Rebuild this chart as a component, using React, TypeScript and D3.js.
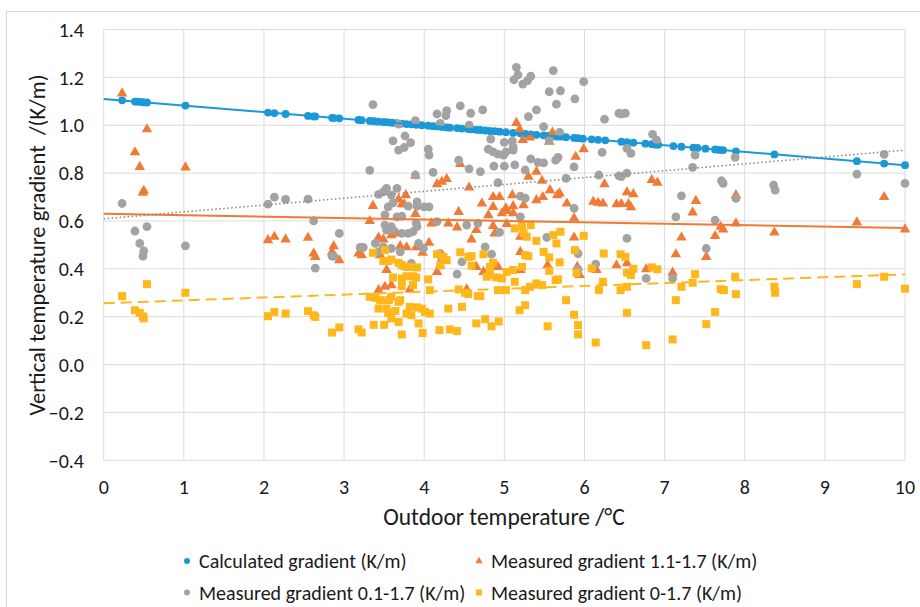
import React from "react";
import * as d3 from "d3";

const xTicks = [0, 1, 2, 3, 4, 5, 6, 7, 8, 9, 10];
const yTicks = [-0.4, -0.2, 0, 0.2, 0.4, 0.6, 0.8, 1.0, 1.2, 1.4];

// calculated gradient: outdoor temperature and value
const calcTemp = [
  0.23, 0.39, 0.41, 0.45, 0.49, 0.54, 1.02, 2.05, 2.13, 2.27, 2.55, 2.62, 2.64, 2.85, 2.87, 2.94,
  3.18, 3.22, 3.32, 3.36, 3.39, 3.43, 3.49, 3.51, 3.55, 3.59, 3.61, 3.66, 3.72, 3.78, 3.84, 3.9,
  3.97, 4.05, 4.11, 4.16, 4.22, 4.28, 4.32, 4.41, 4.47, 4.55, 4.59, 4.65, 4.7, 4.76, 4.82, 4.88,
  4.94, 5.02, 5.11, 5.2, 5.26, 5.33, 5.4, 5.49, 5.56, 5.65, 5.7, 5.77, 5.87, 5.92, 5.98, 6.09,
  6.17, 6.26, 6.46, 6.53, 6.61, 6.76, 6.84, 6.88, 6.92, 7.11, 7.21, 7.36, 7.41, 7.51, 7.63, 7.68,
  7.73, 7.89, 8.37, 9.4, 9.74, 10.0,
];
const calcGrad = [
  1.104, 1.099, 1.099, 1.098, 1.096, 1.095, 1.082, 1.053, 1.051, 1.047, 1.039, 1.037, 1.037, 1.031, 1.03, 1.029,
  1.022, 1.021, 1.018, 1.017, 1.016, 1.015, 1.013, 1.013, 1.012, 1.011, 1.01, 1.009, 1.007, 1.005, 1.004, 1.002,
  1.0, 0.998, 0.996, 0.995, 0.993, 0.991, 0.99, 0.988, 0.986, 0.984, 0.983, 0.981, 0.98, 0.978, 0.976, 0.975,
  0.973, 0.971, 0.968, 0.966, 0.964, 0.962, 0.96, 0.958, 0.956, 0.953, 0.952, 0.95, 0.947, 0.946, 0.944, 0.941,
  0.939, 0.937, 0.931, 0.929, 0.927, 0.923, 0.921, 0.919, 0.918, 0.913, 0.91, 0.906, 0.905, 0.902, 0.899, 0.897,
  0.896, 0.891, 0.878, 0.85, 0.84, 0.833,
];

// measured gradient 1.1-1.7 [temp, value]
const m11: [number, number][] = [
  [0.23, 1.133], [0.39, 0.887], [0.45, 0.826], [0.54, 0.983], [0.49, 0.718], [0.5, 0.726], [1.02, 0.824],
  [2.05, 0.52], [2.13, 0.534], [2.27, 0.523], [2.55, 0.53], [2.62, 0.464], [2.64, 0.45], [2.87, 0.495],
  [2.85, 0.471], [2.94, 0.436], [3.18, 0.464], [3.22, 0.457],
  [4.45, 0.838], [4.16, 0.754], [4.22, 0.764], [4.28, 0.775], [4.56, 0.74], [3.36, 0.663], [3.68, 0.69],
  [3.77, 0.708], [3.72, 0.67], [3.89, 0.789], [3.75, 0.67], [3.32, 0.6], [3.89, 0.629], [4.43, 0.638],
  [4.09, 0.59], [4.3, 0.59], [4.41, 0.573], [4.65, 0.562], [3.59, 0.541], [3.66, 0.548], [3.43, 0.531],
  [3.49, 0.523], [3.45, 0.457], [3.7, 0.495], [3.78, 0.49], [3.9, 0.49], [3.98, 0.467], [4.06, 0.509],
  [4.16, 0.387], [4.2, 0.415], [4.65, 0.408], [3.53, 0.395], [3.43, 0.311], [3.51, 0.325], [3.59, 0.332],
  [3.82, 0.314], [4.53, 0.314], [3.55, 0.27],
  [5.15, 1.01], [5.19, 0.983], [5.23, 0.938], [5.32, 0.949], [5.6, 0.969], [5.56, 0.931], [5.99, 0.9],
  [5.89, 0.868], [5.4, 0.806], [5.3, 0.785], [5.47, 0.768], [6.25, 0.754], [4.72, 0.673], [4.86, 0.7],
  [4.94, 0.7], [4.86, 0.659], [5.1, 0.708], [5.11, 0.662], [5.24, 0.666], [5.4, 0.687], [5.48, 0.7],
  [5.57, 0.729], [5.66, 0.708], [5.69, 0.715], [5.78, 0.673], [6.11, 0.68], [6.17, 0.676], [6.23, 0.673],
  [6.4, 0.67], [5.02, 0.653],
  [4.8, 0.624], [4.97, 0.632], [5.03, 0.642], [5.11, 0.632], [4.86, 0.579], [5.03, 0.587], [4.88, 0.548],
  [5.2, 0.534], [5.87, 0.611], [5.87, 0.531], [4.59, 0.523], [4.74, 0.387], [4.92, 0.408], [5.2, 0.471],
  [5.2, 0.395], [5.54, 0.415], [5.91, 0.408], [5.94, 0.374], [6.15, 0.395], [6.4, 0.415],
  [6.84, 0.771], [6.91, 0.76], [6.53, 0.72], [6.61, 0.712], [6.46, 0.671], [6.55, 0.671], [6.58, 0.657],
  [7.39, 0.684], [7.35, 0.636], [7.89, 0.708], [7.7, 0.576], [7.73, 0.565], [7.89, 0.59], [7.63, 0.537],
  [7.21, 0.531], [7.14, 0.461], [7.52, 0.45], [6.53, 0.423], [6.77, 0.398], [7.1, 0.384],
  [8.37, 0.552], [9.4, 0.594], [9.74, 0.7], [10.0, 0.565],
];

// measured gradient 0.1-1.7 [temp, value]
const m01: [number, number][] = [
  [0.23, 0.673], [0.39, 0.558], [0.45, 0.506], [0.5, 0.475], [0.49, 0.453], [0.54, 0.576], [1.02, 0.496],
  [2.05, 0.67], [2.13, 0.7], [2.27, 0.69], [2.55, 0.691], [2.62, 0.6], [2.64, 0.403], [2.85, 0.453],
  [2.87, 0.453], [2.94, 0.548], [3.2, 0.49], [3.24, 0.49],
  [3.36, 1.086], [3.68, 1.005], [3.61, 0.935], [3.76, 0.955], [3.83, 0.927], [3.68, 0.896], [3.75, 0.907],
  [3.89, 1.019], [4.05, 0.9], [4.06, 0.875], [3.32, 0.811], [3.89, 0.792], [4.11, 0.803], [4.16, 1.047],
  [4.28, 1.061], [4.27, 1.04], [4.2, 1.008], [4.45, 1.081], [4.58, 1.05], [4.56, 1.0], [4.43, 0.854],
  [4.56, 0.818], [3.43, 0.711], [3.49, 0.722], [3.53, 0.736], [3.59, 0.708], [3.66, 0.736], [3.55, 0.659],
  [3.61, 0.676], [3.8, 0.662], [3.91, 0.68], [3.91, 0.662], [4.0, 0.659], [4.06, 0.659],
  [3.51, 0.625], [3.66, 0.617], [3.72, 0.62], [3.91, 0.576], [3.9, 0.59], [3.51, 0.583], [3.55, 0.569],
  [3.59, 0.576], [3.61, 0.562], [3.53, 0.562], [3.72, 0.548], [3.8, 0.548], [3.86, 0.555], [3.39, 0.506],
  [3.49, 0.492], [3.59, 0.485], [3.7, 0.471], [3.93, 0.506], [3.99, 0.485], [4.2, 0.464], [4.22, 0.436],
  [4.47, 0.429], [4.41, 0.378], [3.43, 0.471], [3.84, 0.423], [3.72, 0.415], [4.16, 0.597], [4.67, 0.59],
  [4.53, 0.583],
  [5.15, 1.242], [5.17, 1.21], [5.12, 1.19], [5.23, 1.172], [5.29, 1.186], [5.33, 1.205], [5.61, 1.228],
  [5.99, 1.182], [5.56, 1.14], [5.7, 1.144], [5.65, 1.088], [5.88, 1.11], [5.4, 1.064], [5.3, 1.036],
  [4.73, 1.064], [5.49, 0.994], [5.69, 0.97], [5.56, 0.938], [6.25, 1.025], [6.22, 0.887], [6.43, 1.05],
  [4.83, 0.942], [5.0, 0.928], [5.1, 0.934], [5.11, 0.91], [5.11, 0.896], [4.8, 0.9], [4.86, 0.889],
  [4.92, 0.879], [4.99, 0.875], [5.02, 0.889], [4.7, 0.806], [4.87, 0.829], [5.0, 0.829], [5.13, 0.834],
  [5.26, 0.813], [5.33, 0.859], [5.42, 0.845], [5.49, 0.843], [5.64, 0.854], [5.67, 0.866], [5.87, 0.826],
  [5.77, 0.778], [6.18, 0.792], [6.43, 0.788], [4.92, 0.76], [5.2, 0.704], [5.26, 0.695], [5.87, 0.653],
  [4.94, 0.552], [5.2, 0.617], [5.53, 0.531], [4.76, 0.492], [4.84, 0.461], [5.92, 0.464], [6.14, 0.42],
  [5.92, 0.398],
  [6.46, 1.047], [6.51, 1.05], [6.85, 0.962], [6.9, 0.938], [6.53, 0.903], [6.58, 0.882], [7.38, 0.875],
  [7.88, 0.866], [7.35, 0.824], [6.46, 0.785], [6.53, 0.8], [7.71, 0.768], [7.73, 0.757], [7.21, 0.705],
  [7.89, 0.694], [7.14, 0.617], [7.63, 0.603], [6.53, 0.527], [7.52, 0.485], [6.77, 0.36], [7.1, 0.36],
  [8.36, 0.75], [8.38, 0.729], [9.4, 0.796], [9.74, 0.878], [10.0, 0.757],
];

// measured gradient 0-1.7 [temp, value]
const m00: [number, number][] = [
  [0.23, 0.286], [0.39, 0.227], [0.45, 0.216], [0.49, 0.202], [0.5, 0.193], [0.54, 0.336], [1.02, 0.3],
  [2.05, 0.202], [2.13, 0.22], [2.27, 0.213], [2.55, 0.223], [2.62, 0.206], [2.64, 0.199], [2.85, 0.134],
  [2.94, 0.155], [3.18, 0.147], [3.22, 0.134], [3.37, 0.166], [3.5, 0.166], [3.72, 0.126], [3.98, 0.132],
  [4.19, 0.144], [4.32, 0.147], [4.41, 0.14], [4.65, 0.172], [4.76, 0.19], [4.84, 0.16], [4.93, 0.18],
  [5.54, 0.16], [5.87, 0.208], [5.92, 0.165], [5.92, 0.126], [6.14, 0.092],
  [3.36, 0.467], [3.51, 0.478], [3.49, 0.433], [3.55, 0.433], [3.59, 0.439], [3.68, 0.425], [3.72, 0.415],
  [3.78, 0.408], [3.84, 0.408], [3.91, 0.406], [3.61, 0.364], [3.72, 0.36], [3.78, 0.369], [3.86, 0.369],
  [3.9, 0.364], [3.72, 0.328], [3.86, 0.332], [4.05, 0.356], [4.16, 0.461], [4.24, 0.45], [4.28, 0.436],
  [4.45, 0.469], [4.55, 0.45], [4.2, 0.415], [4.07, 0.311], [4.43, 0.314], [4.51, 0.3], [4.55, 0.294],
  [4.67, 0.286], [3.32, 0.283], [3.39, 0.279], [3.45, 0.269], [3.55, 0.269], [3.59, 0.283], [3.43, 0.234],
  [3.53, 0.234], [3.55, 0.216], [3.64, 0.224], [3.68, 0.262], [3.7, 0.269], [3.82, 0.241], [3.91, 0.239],
  [3.97, 0.234], [4.01, 0.22], [4.07, 0.213], [3.78, 0.213], [3.84, 0.206], [3.59, 0.193], [3.68, 0.178],
  [4.3, 0.234], [4.47, 0.241], [3.93, 0.172],
  [5.13, 0.569], [5.22, 0.579], [5.33, 0.583], [5.24, 0.548], [5.28, 0.534], [5.4, 0.517], [5.61, 0.541],
  [5.7, 0.555], [5.65, 0.506], [5.99, 0.538], [5.49, 0.471], [5.56, 0.448], [5.26, 0.457], [5.3, 0.453],
  [4.74, 0.461], [4.59, 0.453], [5.88, 0.478], [6.24, 0.464], [5.69, 0.427], [4.86, 0.425], [4.82, 0.408],
  [4.59, 0.413], [5.22, 0.408], [5.11, 0.395], [5.03, 0.387], [4.97, 0.36], [4.9, 0.364], [4.82, 0.374],
  [4.78, 0.367], [5.56, 0.392], [5.9, 0.383], [6.09, 0.402], [5.13, 0.346], [5.26, 0.311], [5.32, 0.325],
  [5.4, 0.339], [5.47, 0.332], [5.64, 0.353], [5.67, 0.356], [4.92, 0.311], [5.02, 0.311], [4.7, 0.286],
  [5.77, 0.269], [6.23, 0.346], [6.18, 0.311], [5.19, 0.227], [5.26, 0.248],
  [6.45, 0.461], [6.51, 0.45], [6.53, 0.384], [6.58, 0.374], [6.61, 0.4], [6.84, 0.406], [6.91, 0.398],
  [6.45, 0.311], [6.53, 0.325], [7.21, 0.325], [7.35, 0.342], [7.38, 0.378], [7.88, 0.367], [7.7, 0.315],
  [7.74, 0.311], [7.89, 0.294], [7.14, 0.269], [6.53, 0.216], [7.63, 0.22], [7.52, 0.169], [6.77, 0.081],
  [7.1, 0.105],
  [8.37, 0.325], [8.38, 0.3], [9.4, 0.336], [9.74, 0.367], [10.0, 0.317],
];

// linear trend lines: value at 0 °C and at 10 °C
const trendCalc = [1.11, 0.833];
const trendM11 = [0.63, 0.571];
const trendM01 = [0.609, 0.896];
const trendM00 = [0.256, 0.377];

const legendItems = [
  { label: "Calculated gradient (K/m)", kind: "calc" },
  { label: "Measured gradient 1.1-1.7 (K/m)", kind: "m11" },
  { label: "Measured gradient 0.1-1.7 (K/m)", kind: "m01" },
  { label: "Measured gradient 0-1.7 (K/m)", kind: "m00" },
];

const BLUE = "#1c98d6";
const ORANGE = "#ef7b36";
const GRAY = "#a3a3a3";
const YELLOW = "#ffb71c";
const FONT = "Carlito, Lato, 'Open Sans', sans-serif";
const INK = "#1a1a1a";

export default function App() {
  const width = 920;
  const height = 607;
  const x = d3.scaleLinear().domain([0, 10]).range([103.7, 905]);
  const y = d3.scaleLinear().domain([-0.4, 1.4]).range([460.3, 29.5]);

  const tri = d3.symbol().type(d3.symbolTriangle).size(48)();
  const sq = d3.symbol().type(d3.symbolSquare).size(64)();
  const triSmall = d3.symbol().type(d3.symbolTriangle).size(24)();
  const sqSmall = d3.symbol().type(d3.symbolSquare).size(36)();

  const trend = (c: number[]) =>
    d3.line<[number, number]>().x(d => x(d[0])).y(d => y(d[1]))([[0, c[0]], [10, c[1]]]) as string;

  const marker = (kind: string, small: boolean) => {
    if (kind === "calc") return <circle r={small ? 3 : 3.9} fill={BLUE} />;
    if (kind === "m01") return <circle r={small ? 3 : 4.4} fill={GRAY} />;
    if (kind === "m11") return <path d={small ? triSmall : tri} fill={ORANGE} />;
    return <path d={small ? sqSmall : sq} fill={YELLOW} />;
  };

  return (
    <svg width={width} height={height} style={{ position: "absolute", left: 0, top: 0, background: "#fff" }}
      fontFamily={FONT}>
      <rect x={6.5} y={11.5} width={1000} height={1000} fill="#fff" stroke="#d9d9d9" />

      {/* grid */}
      {xTicks.map(t => (
        <line key={"gx" + t} x1={x(t)} x2={x(t)} y1={y(1.4)} y2={y(-0.4)} stroke="#dcdcdc" strokeWidth={1} />
      ))}
      {yTicks.map(t => (
        <line key={"gy" + t} x1={x(0)} x2={x(10)} y1={y(t)} y2={y(t)} stroke="#dcdcdc" strokeWidth={1} />
      ))}

      {/* tick labels */}
      {yTicks.map(t => (
        <text key={"ty" + t} x={84} y={y(t)} dy="0.36em" textAnchor="end" fontSize={20} fill={INK}>
          {d3.format(".1f")(t)}
        </text>
      ))}
      {xTicks.map(t => (
        <text key={"tx" + t} x={x(t)} y={486.5} dy="0.36em" textAnchor="middle" fontSize={20} fill={INK}>
          {t}
        </text>
      ))}

      {/* axis titles */}
      <text x={504} y={517} dy="0.36em" textAnchor="middle" fontSize={23.5} fill={INK}>
        Outdoor temperature /°C
      </text>
      <text transform="translate(37,245) rotate(-90)" textAnchor="middle" dy="0.36em" fontSize={22.5} fill={INK}
        style={{ whiteSpace: "pre" }}>
        {"Vertical temperature gradient  /(K/m)"}
      </text>

      {/* series */}
      <g>
        {calcTemp.map((t, i) => (
          <circle key={"c" + i} cx={x(t)} cy={y(calcGrad[i])} r={3.9} fill={BLUE} />
        ))}
      </g>
      <g>
        {m11.map((d, i) => (
          <path key={"o" + i} d={tri} transform={`translate(${x(d[0])},${y(d[1])})`} fill={ORANGE} />
        ))}
      </g>
      <g>
        {m01.map((d, i) => (
          <circle key={"g" + i} cx={x(d[0])} cy={y(d[1])} r={4.4} fill={GRAY} />
        ))}
      </g>
      <g>
        {m00.map((d, i) => (
          <path key={"y" + i} d={sq} transform={`translate(${x(d[0])},${y(d[1])})`} fill={YELLOW} />
        ))}
      </g>

      {/* trend lines */}
      <path d={trend(trendCalc)} stroke={BLUE} strokeWidth={2} fill="none" />
      <path d={trend(trendM11)} stroke={ORANGE} strokeWidth={2} fill="none" />
      <path d={trend(trendM01)} stroke="#8c8c8c" strokeWidth={1.6} strokeDasharray="1.5 2.5" fill="none" />
      <path d={trend(trendM00)} stroke={YELLOW} strokeWidth={2} strokeDasharray="11 6" fill="none" />

      {/* legend */}
      {legendItems.map((item, i) => {
        const lx = i % 2 === 0 ? 187 : 479;
        const ly = i < 2 ? 561 : 592.5;
        return (
          <g key={item.kind} transform={`translate(${lx},${ly})`}>
            {marker(item.kind, true)}
            <text x={12} dy="0.36em" fontSize={20} fill={INK}>{item.label}</text>
          </g>
        );
      })}
    </svg>
  );
}
